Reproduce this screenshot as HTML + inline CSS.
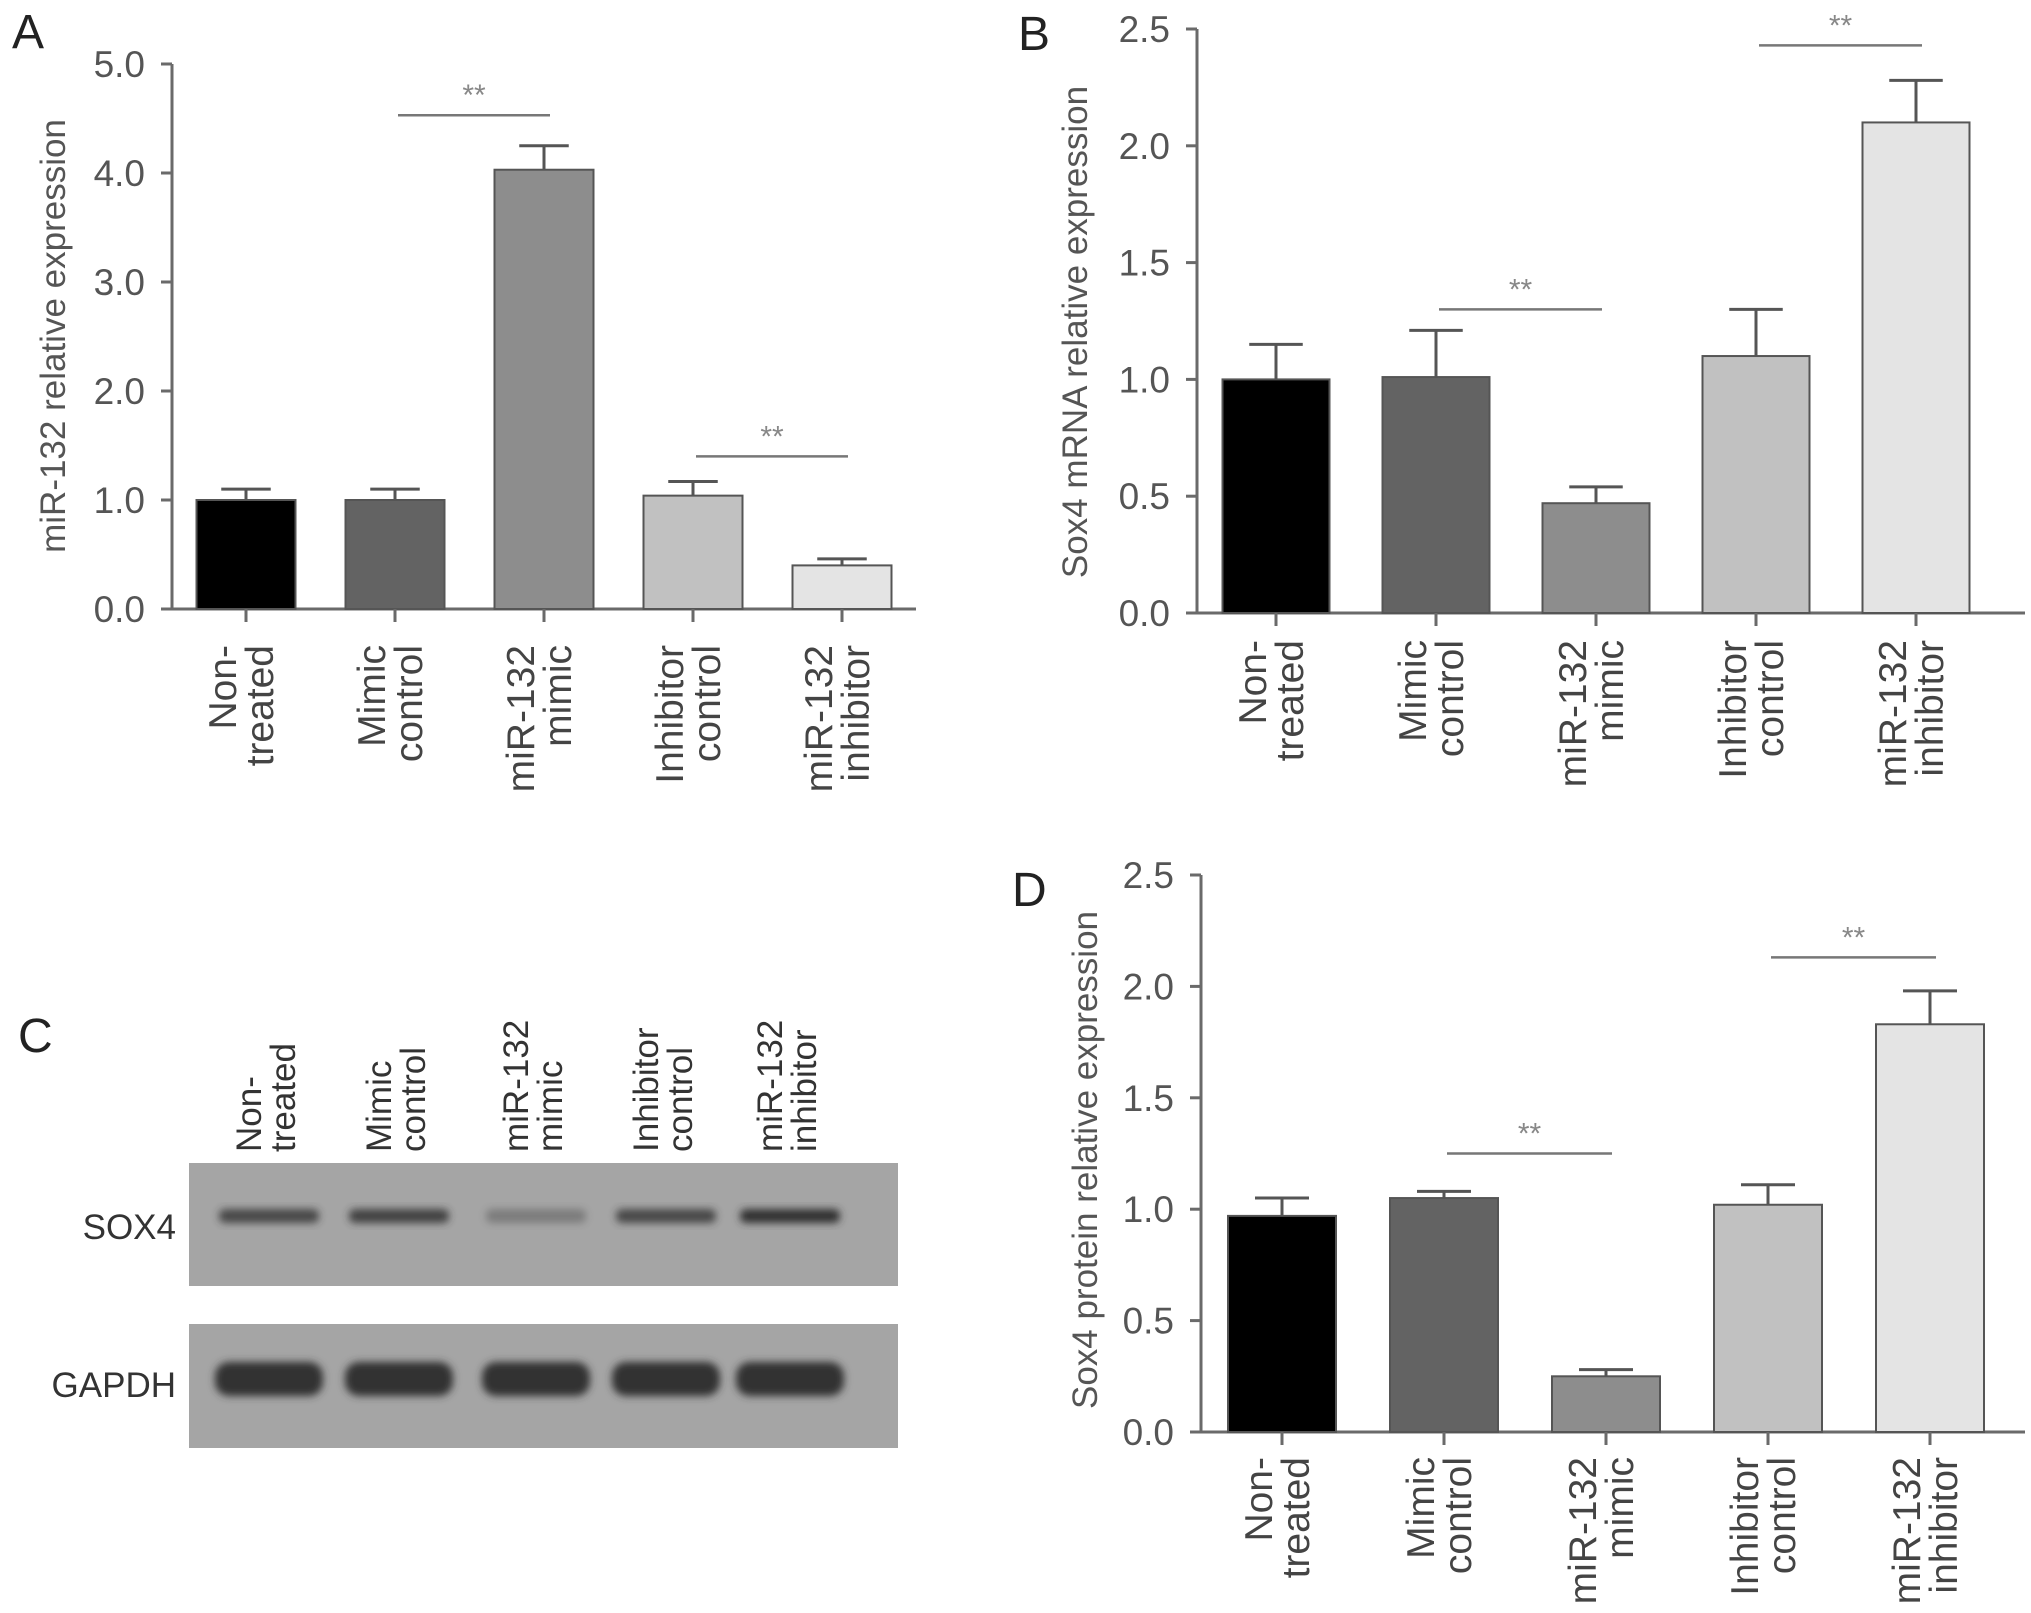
<!DOCTYPE html>
<html><head><meta charset="utf-8"><style>
body{margin:0;background:#fff}
svg{display:block;font-family:"Liberation Sans",sans-serif}
</style></head><body>
<svg id="fig" width="2031" height="1613" viewBox="0 0 2031 1613"></svg>
<script>
const categories = [["Non-","treated"],["Mimic","control"],["miR-132","mimic"],["Inhibitor","control"],["miR-132","inhibitor"]];
const fills = ["#000000","#636363","#8d8d8d","#c1c1c1","#e4e4e4"];
const valuesA = [1.0, 1.0, 4.03, 1.04, 0.40];
const errorsA = [0.10, 0.10, 0.22, 0.13, 0.06];
const ticksA = ["0.0","1.0","2.0","3.0","4.0","5.0"];
const sigA = [[1,2,4.53],[3,4,1.40]];
const valuesB = [1.0, 1.01, 0.47, 1.10, 2.10];
const errorsB = [0.15, 0.20, 0.07, 0.20, 0.18];
const ticksB = ["0.0","0.5","1.0","1.5","2.0","2.5"];
const sigB = [[1,2,1.30],[3,4,2.43]];
const valuesD = [0.97, 1.05, 0.25, 1.02, 1.83];
const errorsD = [0.08, 0.03, 0.03, 0.09, 0.15];
const ticksD = ["0.0","0.5","1.0","1.5","2.0","2.5"];
const sigD = [[1,2,1.25],[3,4,2.13]];

const NS="http://www.w3.org/2000/svg";
const svg=document.getElementById('fig');
function mk(tag,attrs,parent,text){const e=document.createElementNS(NS,tag);for(const k in attrs)e.setAttribute(k,attrs[k]);if(text!==undefined)e.textContent=text;(parent||svg).appendChild(e);return e;}

function drawChart(cfg,values,errors,ticks,sig){
  const g=mk('g',{});
  
  
  const maxV=parseFloat(ticks[ticks.length-1]);
  const y=v=>cfg.y0-(v/maxV)*(cfg.y0-cfg.yTop);
  const x=i=>cfg.c0+i*cfg.step;
  const ya=mk('line',{x1:cfg.ax,y1:cfg.yTop,x2:cfg.ax,y2:cfg.y0,stroke:'#6a6a6a','stroke-width':3},g);
  
  
  const xa=mk('line',{x1:cfg.ax-11,y1:cfg.y0,x2:cfg.xEnd,y2:cfg.y0,stroke:'#6a6a6a','stroke-width':3},g);
  
  
  ticks.forEach((t,i)=>{
    const v=parseFloat(t);
    mk('line',{x1:cfg.ax-11,y1:y(v),x2:cfg.ax,y2:y(v),stroke:'#6a6a6a','stroke-width':3},g);
    const tl=mk('text',{x:cfg.ax-27,y:y(v)+13,'text-anchor':'end','font-size':37,fill:'#555'},g,t);
    
    
  });
  const yt=mk('text',{transform:`translate(${cfg.titleX},${cfg.titleY}) rotate(-90)`,'text-anchor':'middle','font-size':35,fill:'#555'},g,cfg.title);
  
  
  values.forEach((v,i)=>{
    const cx=x(i);
    const eb=mk('line',{x1:cx,y1:y(v+errors[i]),x2:cx,y2:y(v),stroke:'#555','stroke-width':3},g);
    
    
    mk('line',{x1:cx-cfg.bw*0.25,y1:y(v+errors[i]),x2:cx+cfg.bw*0.25,y2:y(v+errors[i]),stroke:'#555','stroke-width':3},g);
    const r=mk('rect',{x:cx-cfg.bw/2,y:y(v),width:cfg.bw,height:cfg.y0-y(v),fill:fills[i],stroke:'#555','stroke-width':2},g);
    
    
    mk('line',{x1:cx,y1:cfg.y0,x2:cx,y2:cfg.y0+13,stroke:'#6a6a6a','stroke-width':3},g);
    const cl=mk('text',{transform:`translate(${cx},${cfg.labTop}) rotate(-90)`,'text-anchor':'end','font-size':39,fill:'#444'},g);
    
    
    mk('tspan',{x:0,y:-10},cl,categories[i][0]);
    mk('tspan',{x:0,y:27},cl,categories[i][1]);
  });
  sig.forEach(s=>{
    const x1=x(s[0])+3,x2=x(s[1])+6,yy=y(s[2]);
    const sl=mk('line',{x1:x1,y1:yy,x2:x2,y2:yy,stroke:'#777','stroke-width':2.5},g);
    
    
    const st=mk('text',{x:(x1+x2)/2,y:yy-10,'text-anchor':'middle','font-size':30,fill:'#888'},g,'**');
    
    
  });
}

drawChart({name:'chart-a',ax:172,yTop:64,y0:609,xEnd:916,c0:246,step:149,bw:99,labTop:645,title:'miR-132 relative expression',titleX:65,titleY:336},valuesA,errorsA,ticksA,sigA);
drawChart({name:'chart-b',ax:1197,yTop:29,y0:613,xEnd:2025,c0:1276,step:160,bw:107,labTop:640,title:'Sox4 mRNA relative expression',titleX:1087,titleY:332},valuesB,errorsB,ticksB,sigB);
drawChart({name:'chart-d',ax:1201,yTop:875,y0:1432,xEnd:2025,c0:1282,step:162,bw:108,labTop:1457,title:'Sox4 protein relative expression',titleX:1097,titleY:1160},valuesD,errorsD,ticksD,sigD);

[['A',12,48],['B',1018,50],['C',18,1052],['D',1012,906]].forEach(p=>{
  const t=mk('text',{x:p[1],y:p[2],'font-size':48,fill:'#222'},svg,p[0]);
  
  
});

const blotCols=[267,397,534,664,788];
const sox4Band=[0.8,0.85,0.35,0.8,1];
const gapdhBand=[1,1,1,1,1];
const cg=mk('g',{});


const defs=mk('defs',{},cg);
const f=mk('filter',{id:'blur',x:'-20%',y:'-50%',width:'140%',height:'200%'},defs);
mk('feGaussianBlur',{stdDeviation:4},f);
categories.forEach((c,i)=>{
  const t=mk('text',{transform:`translate(${blotCols[i]},1152) rotate(-90)`,'font-size':35,fill:'#333'},cg);
  
  
  mk('tspan',{x:0,y:-6},t,c[0]);
  mk('tspan',{x:0,y:28},t,c[1]);
});
const b1=mk('rect',{x:189,y:1163,width:709,height:123,fill:'#a5a5a5'},cg);


const b2=mk('rect',{x:189,y:1324,width:709,height:124,fill:'#a5a5a5'},cg);


blotCols.forEach((cx,i)=>{
  const s=mk('rect',{x:cx-48,y:1209,width:100,height:14,rx:6,fill:'#333',opacity:sox4Band[i],filter:'url(#blur)'},cg);
  
  
  const gb=mk('rect',{x:cx-52,y:1362,width:108,height:34,rx:14,fill:'#333',opacity:gapdhBand[i],filter:'url(#blur)'},cg);
  
  
});
const l1=mk('text',{x:176,y:1239,'text-anchor':'end','font-size':35,fill:'#333'},cg,'SOX4');


const l2=mk('text',{x:176,y:1397,'text-anchor':'end','font-size':35,fill:'#333'},cg,'GAPDH');


</script>
</body></html>
